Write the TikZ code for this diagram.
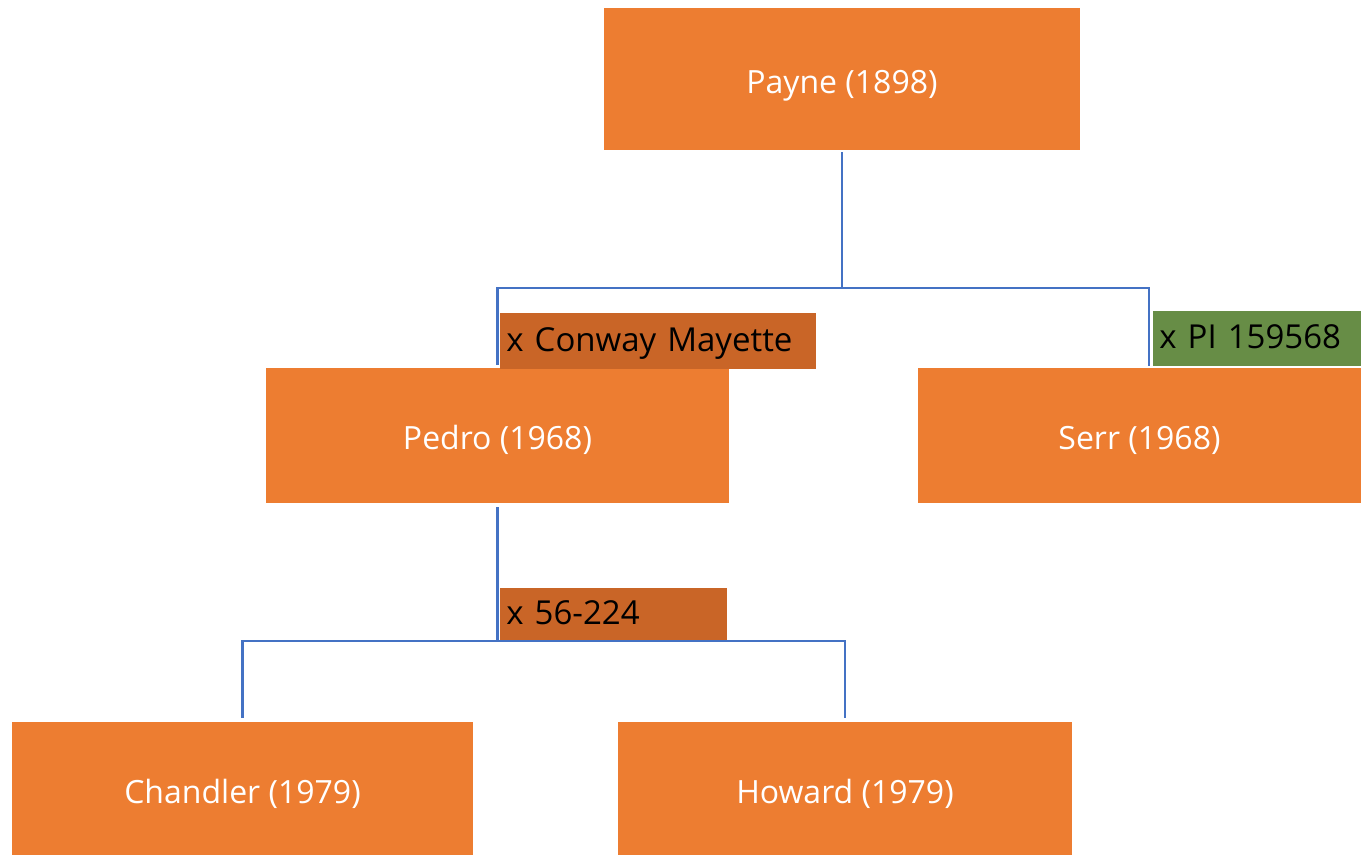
\documentclass[tikz,border=0pt]{standalone}
\usepackage{fontspec}
\setmainfont{Open Sans}
\usetikzlibrary{positioning}
\definecolor{boxfill}{HTML}{ED7D31}
\definecolor{tagfill}{HTML}{C96527}
\definecolor{tagalt}{HTML}{678D46}
\definecolor{linkblue}{HTML}{4472C4}
\tikzset{
    person/.style={
        fill=boxfill,
        text=white,
        inner sep=0pt,
        text height=18pt,
        text depth=3.5pt,
        font=\fontsize{16}{19}\selectfont
    },
    cross/.style={
        fill=tagfill,
        text=black,
        anchor=north west,
        inner sep=0pt,
        align=left,
        text width=#1,
        text height=14pt,
        text depth=4pt,
        font=\fontsize{16.5}{19}\selectfont
    },
    link/.style={draw=linkblue, line width=1.1pt}
}
\begin{document}
\begin{tikzpicture}[x=0.5pt, y=-0.5pt]
        \useasboundingbox (0,0) rectangle (1361,855);

        % Generations
        \node[person, minimum width=238pt, minimum height=71pt] (payne) at (842,79) {Payne (1898)};
        \node[person, minimum width=231.5pt, minimum height=67.5pt] (pedro) at (497.5,435.5) {Pedro (1968)};
        \node[person, minimum width=221.5pt, minimum height=67.5pt] (serr) at (1139.5,435.5) {Serr (1968)};
        \node[person, minimum width=230.5pt, minimum height=66.5pt] (chandler) at (242.5,788.5) {Chandler (1979)};
        \node[person, minimum width=227pt, minimum height=66.5pt] (howard) at (845,788.5) {Howard (1979)};

        % Crosses
        \node[cross=158pt, minimum height=28pt, fill=tagfill] (conway) at (500,313) {\hspace{3pt}x Conway Mayette};
        \node[cross=104pt, minimum height=27.5pt, fill=tagalt] (pi) at (1153,311) {\hspace{3pt}x PI 159568};
        \node[cross=113.5pt, minimum height=26.5pt, fill=tagfill] (fiftysix) at (500,588) {\hspace{3pt}x 56-224};

        % Branches
        \coordinate (split1) at (842,288);
        \coordinate (serrtop) at (1149,366);
        \coordinate (split2) at (497.5,641);
        \draw[link] ([yshift=-1pt]payne.south) -- (split1);
        \draw[link] ([yshift=1.5pt]pedro.north) |- (split1) -| (serrtop);
        \draw[link] ([yshift=-2pt]pedro.south) -- (split2);
        \draw[link] ([yshift=2pt]chandler.north) |- (split2) -| ([yshift=2pt]howard.north);
\end{tikzpicture}
\end{document}
